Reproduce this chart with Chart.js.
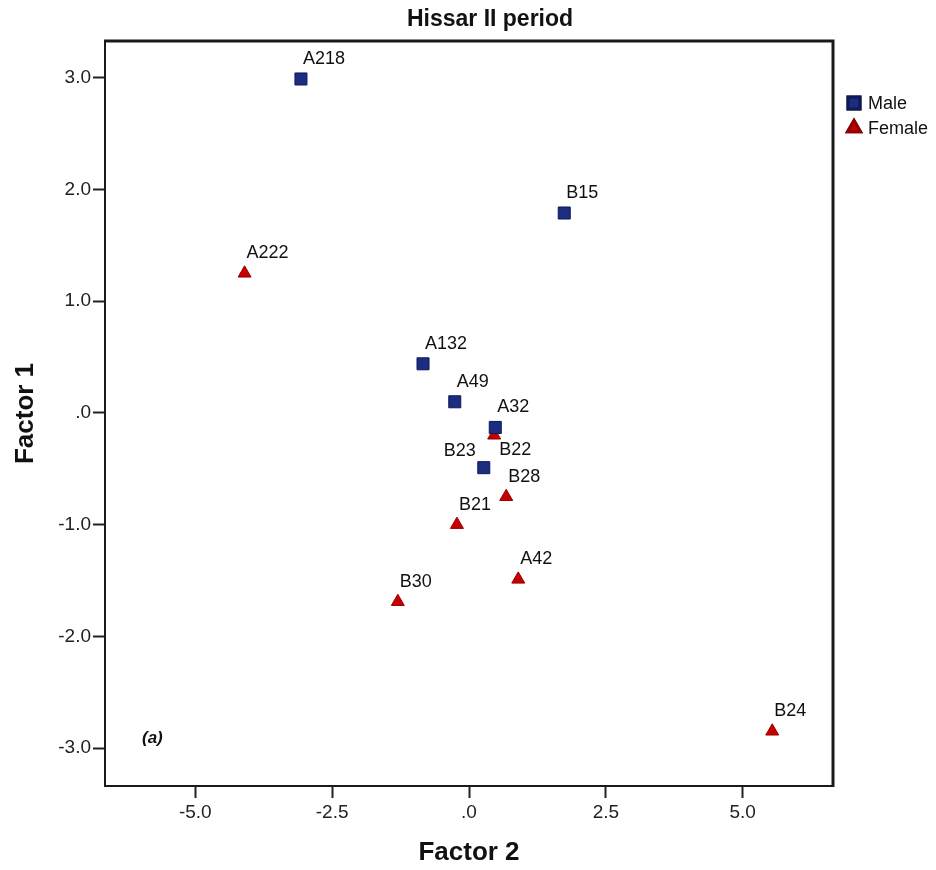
<!DOCTYPE html>
<html>
<head>
<meta charset="utf-8">
<title>Hissar II period</title>
<script src="https://cdn.jsdelivr.net/npm/chart.js@4.4.1/dist/chart.umd.min.js"></script>
<style>
  html, body { margin: 0; padding: 0; background: #fff; }
  #wrap { width: 936px; height: 870px; position: relative; }
</style>
</head>
<body>
<div id="wrap"><canvas id="scatter"></canvas></div>
<script>
// Data
const maleLabels = ["A218", "B15", "A132", "A49", "A32", "B23"];
const maleX = [-3.07, 1.74, -0.84, -0.26, 0.48, 0.27];
const maleY = [2.99, 1.79, 0.44, 0.10, -0.13, -0.49];

const femaleLabels = ["A222", "B22", "B28", "B21", "A42", "B30", "B24"];
const femaleX = [-4.10, 0.46, 0.68, -0.22, 0.90, -1.30, 5.54];
const femaleY = [1.25, -0.20, -0.75, -1.00, -1.49, -1.69, -2.85];

const xTicks = [-5, -2.5, 0, 2.5, 5];
const yTicks = [-3, -2, -1, 0, 1, 2, 3];

const MALE = "#1c2d80";
const FEMALE = "#c40000";

function toPoints(xs, ys, names) {
    return xs.map((x, i) => ({ x: x, y: ys[i], name: names[i] }));
}

// SPSS style number format: 0 shows as ".0"
function spssFmt(v) {
    if (v === 0) return ".0";
    return v.toFixed(1);
}

// label placement tweaks (which side of the marker)
const labelSide = {
    B22: "below",
    B23: "left"
};

const pointLabels = {
    id: "pointLabels",
    afterDatasetsDraw(chart) {
        const ctx = chart.ctx;
        ctx.save();
        ctx.font = "18px 'Liberation Sans', Arial, sans-serif";
        ctx.fillStyle = "#111";
        ctx.textBaseline = "middle";
        chart.data.datasets.forEach((ds, di) => {
            const meta = chart.getDatasetMeta(di);
            meta.data.forEach((el, i) => {
                const name = ds.data[i].name;
                const side = labelSide[name];
                if (side === "below") {
                    ctx.textAlign = "left";
                    ctx.fillText(name, el.x + 5, el.y + 15);
                } else if (side === "left") {
                    ctx.textAlign = "right";
                    ctx.fillText(name, el.x - 8, el.y - 17);
                } else {
                    ctx.textAlign = "left";
                    ctx.fillText(name, el.x + 2, el.y - 20);
                }
            });
        });
        ctx.restore();
    }
};

const frameAndText = {
    id: "frameAndText",
    afterDraw(chart) {
        const ctx = chart.ctx;
        const a = chart.chartArea;
        ctx.save();
        // plot frame
        ctx.strokeStyle = "#1a1a1a";
        ctx.lineWidth = 2;
        ctx.beginPath();
        ctx.moveTo(a.left, a.top);
        ctx.lineTo(a.left, a.bottom);
        ctx.lineTo(a.right, a.bottom);
        ctx.stroke();
        ctx.lineWidth = 3;
        ctx.beginPath();
        ctx.moveTo(a.left - 1, a.top);
        ctx.lineTo(a.right, a.top);
        ctx.lineTo(a.right, a.bottom + 1);
        ctx.stroke();

        // title
        ctx.fillStyle = "#111";
        ctx.font = "bold 23px 'Liberation Sans', Arial, sans-serif";
        ctx.textAlign = "center";
        ctx.textBaseline = "middle";
        ctx.fillText("Hissar II period", 490, 20);

        // panel tag
        ctx.font = "italic bold 17px 'Liberation Sans', Arial, sans-serif";
        ctx.textAlign = "left";
        ctx.fillText("(a)", 142, 738);

        // legend
        ctx.font = "18px 'Liberation Sans', Arial, sans-serif";
        chart.data.datasets.forEach((ds, i) => {
            const y = 103 + i * 25;
            Chart.helpers.drawPoint(ctx, {
                pointStyle: ds.pointStyle,
                radius: ds.pointRadius,
                borderWidth: 1
            }, 854, y);
            ctx.fillStyle = ds.backgroundColor;
            ctx.strokeStyle = ds.borderColor;
            ctx.fill();
            ctx.stroke();
            ctx.fillStyle = "#111";
            ctx.fillText(ds.label, 868, y + 1);
        });
        ctx.restore();
    }
};

const tickFont = { family: "'Liberation Sans', Arial, sans-serif", size: 19 };
const titleFont = { family: "'Liberation Sans', Arial, sans-serif", size: 26, weight: "bold" };

new Chart(document.getElementById("scatter"), {
    type: "scatter",
    data: {
        datasets: [
            {
                label: "Male",
                data: toPoints(maleX, maleY, maleLabels),
                pointStyle: "rect",
                pointRadius: 8.5,
                pointHoverRadius: 8.5,
                backgroundColor: MALE,
                borderColor: "#0d1a5a",
                borderWidth: 1
            },
            {
                label: "Female",
                data: toPoints(femaleX, femaleY, femaleLabels),
                pointStyle: "triangle",
                pointRadius: 7.5,
                pointHoverRadius: 7.5,
                backgroundColor: FEMALE,
                borderColor: "#9a0000",
                borderWidth: 1
            }
        ]
    },
    options: {
        responsive: true,
        maintainAspectRatio: false,
        animation: false,
        layout: { padding: { top: 41, right: 103, left: 0, bottom: 0 } },
        plugins: {
            legend: { display: false },
            title: { display: false },
            tooltip: { enabled: false }
        },
        scales: {
            x: {
                type: "linear",
                min: -6.65,
                max: 6.65,
                afterBuildTicks: (s) => { s.ticks = xTicks.map(v => ({ value: v })); },
                afterFit: (s) => { s.height = 84; },
                ticks: { callback: spssFmt, color: "#222", font: tickFont, padding: 3, maxRotation: 0 },
                grid: { drawOnChartArea: false, drawTicks: true, tickLength: 12, tickWidth: 2, tickColor: "#222" },
                border: { display: false },
                title: { display: true, text: "Factor 2", color: "#111", font: titleFont, padding: { top: 0, bottom: 2 } }
            },
            y: {
                type: "linear",
                min: -3.34,
                max: 3.33,
                afterBuildTicks: (s) => { s.ticks = yTicks.map(v => ({ value: v })); },
                afterFit: (s) => { s.width = 105; },
                ticks: { callback: spssFmt, color: "#222", font: tickFont, padding: 2 },
                grid: { drawOnChartArea: false, drawTicks: true, tickLength: 12, tickWidth: 2, tickColor: "#222" },
                border: { display: false },
                title: { display: true, text: "Factor 1", color: "#111", font: titleFont, padding: { top: 10, bottom: 0 } }
            }
        }
    },
    plugins: [pointLabels, frameAndText]
});
</script>
</body>
</html>
